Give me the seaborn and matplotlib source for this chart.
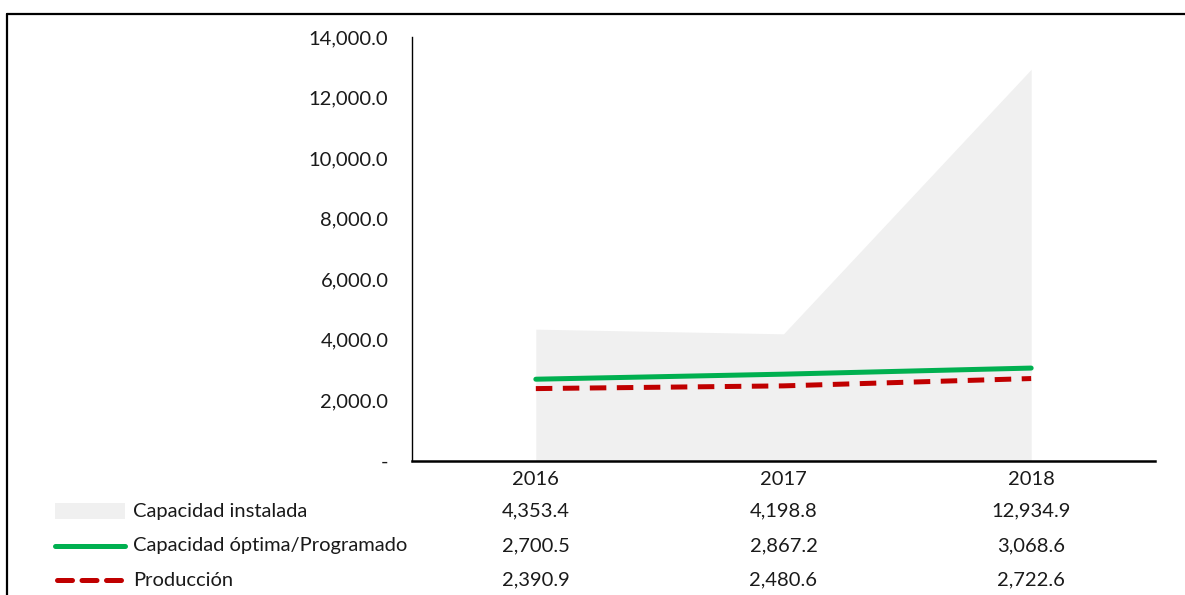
import numpy as np
import pandas as pd
import matplotlib
matplotlib.use("Agg")
import matplotlib.pyplot as plt
from matplotlib.lines import Line2D
from matplotlib.patches import Rectangle
from matplotlib.ticker import FuncFormatter
from matplotlib.transforms import blended_transform_factory
import seaborn as sns

# data
years = ["2016", "2017", "2018"]
instalada = [4353.4, 4198.8, 12934.9]
optima = [2700.5, 2867.2, 3068.6]
produccion = [2390.9, 2480.6, 2722.6]
series_names = ["Capacidad instalada", "Capacidad óptima/Programado", "Producción"]

GRAY = "#F0F0F0"
GREEN = "#00B050"
RED = "#C00000"
FS = 14.5

sns.set_theme(style="white")
plt.rcParams["font.family"] = ["Lato", "DejaVu Sans"]
plt.rcParams["text.color"] = "#1a1a1a"

W, H = 1185, 595
fig = plt.figure(figsize=(W / 100, H / 100), dpi=100)
fig.patch.set_facecolor("white")

ax = fig.add_axes([412 / W, 1 - 461 / H, 743 / W, 424 / H])

df = pd.DataFrame({"year": years, "instalada": instalada,
                   "optima": optima, "produccion": produccion})
xpos = np.arange(len(years))

# area for installed capacity
ax.fill_between(xpos, df["instalada"], 0, color=GRAY, linewidth=0, zorder=1)

sns.lineplot(data=df, x="year", y="optima", ax=ax, color=GREEN,
             linewidth=3.6, zorder=3, sort=False)
sns.lineplot(data=df, x="year", y="produccion", ax=ax, color=RED,
             linewidth=3.6, zorder=3, sort=False, dashes=False)
ax.lines[-1].set_dashes((3.3, 2.1))

ax.set_xlim(-0.5, len(years) - 0.5)
ax.set_ylim(0, 14000)
ax.set_yticks(np.arange(0, 14001, 2000))
ax.yaxis.set_major_formatter(FuncFormatter(lambda v, p: "-" if v == 0 else f"{v:,.1f}"))
ax.set_xticks(xpos)
ax.set_xticklabels(years)
ax.tick_params(axis="y", length=0, pad=17, labelsize=FS, colors="#1a1a1a")
ax.tick_params(axis="x", length=0, pad=7, labelsize=FS, colors="#1a1a1a")
ax.set_xlabel("")
ax.set_ylabel("")

for s in ["top", "right"]:
    ax.spines[s].set_visible(False)
ax.spines["left"].set_color("black")
ax.spines["left"].set_linewidth(1.0)
ax.spines["bottom"].set_color("black")
ax.spines["bottom"].set_linewidth(1.8)

# data table under the chart
tr = blended_transform_factory(ax.transData, fig.transFigure)
row_y = [511, 546, 580]
rows = [instalada, optima, produccion]
for yy, name, vals in zip(row_y, series_names, rows):
    fy = 1 - yy / H
    fig.text(133 / W, fy, name, ha="left", va="center", fontsize=FS)
    for i, v in enumerate(vals):
        ax.text(i, fy, f"{v:,.1f}", transform=tr, ha="center", va="center",
                fontsize=FS, clip_on=False)

# legend keys
fig.add_artist(Rectangle((55 / W, 1 - 519 / H), 70 / W, 16 / H,
                         transform=fig.transFigure, facecolor=GRAY, edgecolor="none"))
fig.add_artist(Line2D([55 / W, 125 / W], [1 - 546 / H] * 2, transform=fig.transFigure,
                      color=GREEN, linewidth=3.6, solid_capstyle="round"))
fig.add_artist(Line2D([57 / W, 124 / W], [1 - 580 / H] * 2, transform=fig.transFigure,
                      color=RED, linewidth=3.6, dashes=(3.0, 1.9),
                      dash_capstyle="round"))

# outer frame (top and left)
fig.add_artist(Line2D([7 / W, 1], [1 - 14 / H] * 2, transform=fig.transFigure,
                      color="black", linewidth=1.6))
fig.add_artist(Line2D([7 / W, 7 / W], [0, 1 - 14 / H], transform=fig.transFigure,
                      color="black", linewidth=1.6))

fig.savefig("out.png", dpi=100)
